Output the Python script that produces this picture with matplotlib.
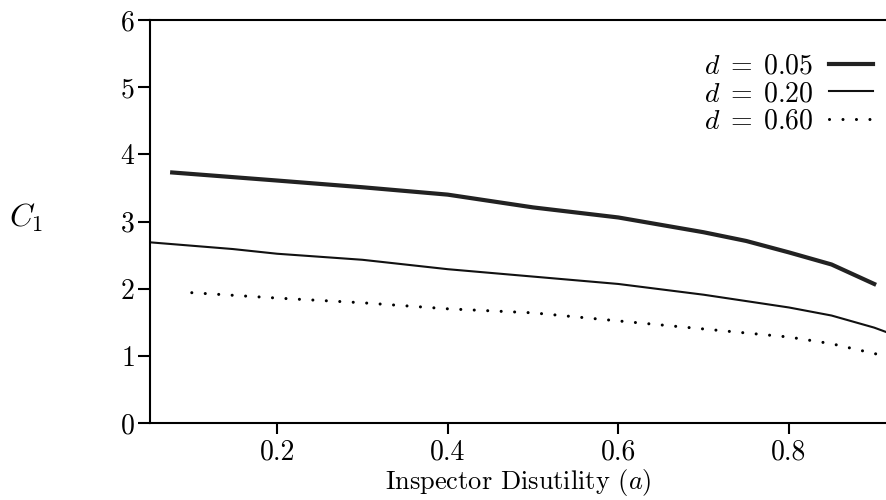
import numpy as np
import matplotlib
matplotlib.use("Agg")
import matplotlib.pyplot as plt

plt.rcParams['font.family'] = 'cmr10'
plt.rcParams['mathtext.fontset'] = 'cm'
plt.rcParams['axes.formatter.use_mathtext'] = True

# values
a_05 = [0.077, 0.2, 0.3, 0.4, 0.5, 0.6, 0.7, 0.75, 0.8, 0.85, 0.9]
c_05 = [3.73, 3.61, 3.51, 3.40, 3.21, 3.06, 2.84, 2.71, 2.54, 2.36, 2.07]

a_20 = [0.051, 0.148, 0.2, 0.3, 0.4, 0.5, 0.6, 0.7, 0.8, 0.85, 0.9, 0.915]
c_20 = [2.69, 2.59, 2.52, 2.43, 2.29, 2.18, 2.07, 1.91, 1.72, 1.60, 1.42, 1.35]

a_60 = [0.1, 0.2, 0.3, 0.4, 0.5, 0.6, 0.7, 0.8, 0.85, 0.905]
c_60 = [1.94, 1.86, 1.79, 1.70, 1.64, 1.52, 1.40, 1.28, 1.18, 1.02]

labels = [r'$d\;=\;0.05$', r'$d\;=\;0.20$', r'$d\;=\;0.60$']
xticks = [0.2, 0.4, 0.6, 0.8]
yticks = [0, 1, 2, 3, 4, 5, 6]


def main():
    fig = plt.figure(figsize=(8.87, 5.0), dpi=100)
    ax = fig.add_axes([150 / 887, 77 / 500, 737 / 887, 403 / 500])

    ax.plot(a_05, c_05, color='#222222', lw=3.0, label=labels[0])
    ax.plot(a_20, c_20, color='#111111', lw=1.5, label=labels[1])
    ax.plot(a_60, c_60, color='black', lw=2.2, linestyle=(0, (0.01, 4.4)),
            dash_capstyle='round', label=labels[2])

    ax.set_xlim(0.051, 0.915)
    ax.set_ylim(0, 6)
    ax.set_xticks(xticks)
    ax.set_xticklabels([str(t) for t in xticks])
    ax.set_yticks(yticks)
    ax.tick_params(axis='both', direction='out', width=1.5, labelsize=20)
    ax.tick_params(axis='y', length=9, pad=2)
    ax.tick_params(axis='x', length=8, pad=4)
    ax.spines['right'].set_visible(False)
    for s in ['left', 'top', 'bottom']:
        ax.spines[s].set_linewidth(1.5)

    ax.set_xlabel('Inspector Disutility $(a)$', fontsize=19, labelpad=1)
    fig.text(26 / 887, 1 - 218 / 500, '$C_1$', fontsize=23, ha='center', va='center')

    ax.legend(loc='upper right', bbox_to_anchor=(1 - 14 / 737, 1 - 33 / 403),
              markerfirst=False, frameon=False, fontsize=20, handlelength=1.6,
              handletextpad=0.55, labelspacing=0.05, borderaxespad=0, borderpad=0)

    fig.savefig('out.png', dpi=100)


if __name__ == "__main__":
    main()
